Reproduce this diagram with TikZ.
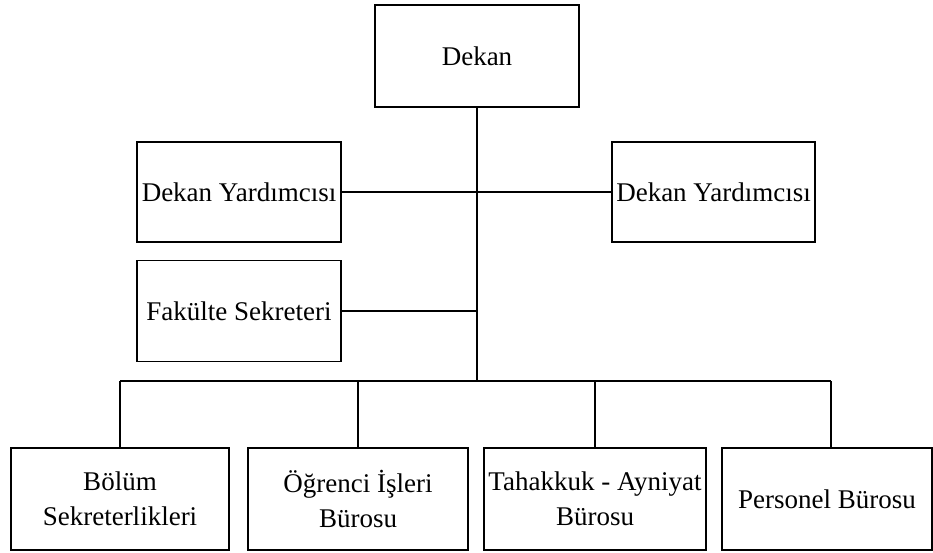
\documentclass[tikz,border=0pt]{standalone}
\usepackage{fontspec}
\setmainfont{Liberation Serif}
\begin{document}
\begin{tikzpicture}[x=1pt,y=-1pt,
  box/.style={draw=black,line width=1.3pt,fill=white,rectangle,align=center,inner sep=0pt,
    font=\fontsize{27}{35}\selectfont},
  link/.style={draw=black,line width=1.3pt}]
\useasboundingbox (0,0) rectangle (933,553);
\node[box,minimum width=204,minimum height=102] (dekan) at (477,56) {Dekan};
\node[box,minimum width=204,minimum height=100] (dy1) at (239,192) {Dekan Yardımcısı};
\node[box,minimum width=203,minimum height=100] (dy2) at (713.5,192) {Dekan Yardımcısı};
\node[box,minimum width=204,minimum height=101] (fs) at (239,311) {Fakülte Sekreteri};
\node[box,minimum width=218,minimum height=102] (b1) at (120,499) {Bölüm\\Sekreterlikleri};
\node[box,minimum width=220,minimum height=102] (b2) at (358,499) {Öğrenci İşleri\\Bürosu};
\node[box,minimum width=222,minimum height=102] (b3) at (595,499) {Tahakkuk - Ayniyat\\Bürosu};
\node[box,minimum width=210,minimum height=102] (b4) at (827,499) {Personel Bürosu};
\coordinate (bus) at (477,381);
\coordinate (d4) at (831,381);
\draw[link] (dekan.south) -- (bus);
\draw[link] (dy1.east) -- (dy2.west);
\draw[link] (fs.east) -- (fs.east -| dekan.south);
\draw[link] (b1.north |- bus) -- (d4);
\draw[link] (b1.north |- bus) -- (b1.north);
\draw[link] (b2.north |- bus) -- (b2.north);
\draw[link] (b3.north |- bus) -- (b3.north);
\draw[link] (d4) -- (d4 |- b4.north);
\end{tikzpicture}
\end{document}
